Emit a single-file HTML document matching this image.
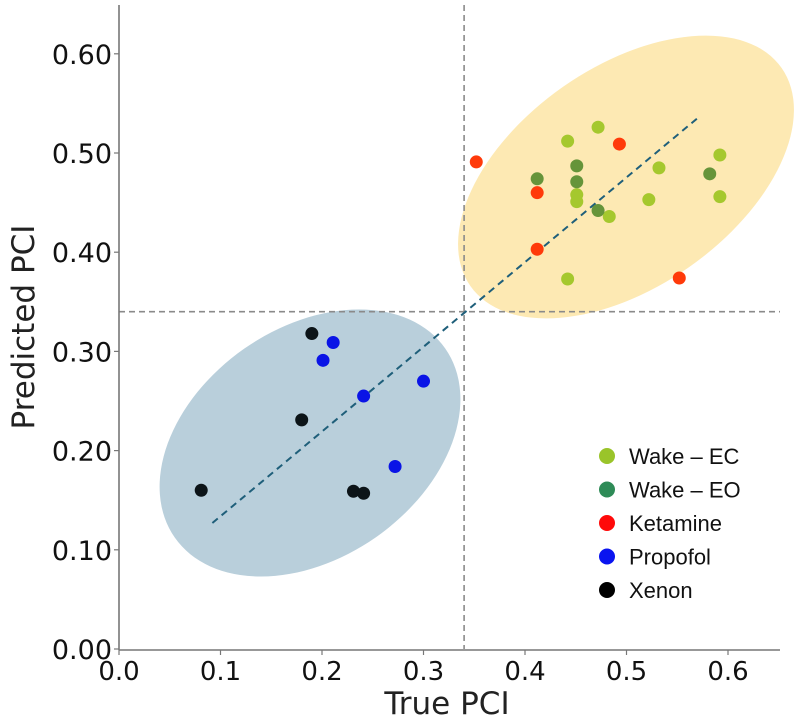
<!DOCTYPE html>
<html><head><meta charset="utf-8"><style>
html,body{margin:0;padding:0;background:#fff;}
svg{display:block;font-family:"DejaVu Sans","Liberation Sans",sans-serif;}
</style></head><body>
<svg id="chart" width="800" height="721" viewBox="0 0 800 721" xmlns="http://www.w3.org/2000/svg"></svg>
<script>
const xTicks = [0.0,0.1,0.2,0.3,0.4,0.5,0.6];
const xTickLabels = ["0.0","0.1","0.2","0.3","0.4","0.5","0.6"];
const yTicks = [0.0,0.1,0.2,0.3,0.4,0.5,0.6];
const yTickLabels = ["0.00","0.10","0.20","0.30","0.40","0.50","0.60"];
const categories = ["Wake – EC","Wake – EO","Ketamine","Propofol","Xenon"];
const wakeEC_x = [0.472,0.442,0.592,0.532,0.451,0.451,0.522,0.592,0.483,0.442];
const wakeEC_y = [0.526,0.512,0.498,0.485,0.458,0.451,0.453,0.456,0.436,0.373];
const wakeEO_x = [0.451,0.412,0.582,0.451,0.472];
const wakeEO_y = [0.487,0.474,0.479,0.471,0.442];
const ketamine_x = [0.352,0.493,0.412,0.412,0.552];
const ketamine_y = [0.491,0.509,0.460,0.403,0.374];
const propofol_x = [0.211,0.201,0.300,0.241,0.272];
const propofol_y = [0.309,0.291,0.270,0.255,0.184];
const xenon_x = [0.190,0.180,0.081,0.231,0.241];
const xenon_y = [0.318,0.231,0.160,0.159,0.157];
const fitLine_x = [0.092,0.571];
const fitLine_y = [0.127,0.536];
const threshold = 0.34;

const NS="http://www.w3.org/2000/svg";
const svg=document.getElementById('chart');
const X0=119, XS=1015, Y0=649, YS=992;
const sx=v=>X0+v*XS, sy=v=>Y0-v*YS;
function mk(tag,attrs,parent){const e=document.createElementNS(NS,tag);for(const k in attrs)e.setAttribute(k,attrs[k]);(parent||svg).appendChild(e);return e;}

let e1=mk('ellipse',{cx:310,cy:443,rx:165,ry:115,transform:'rotate(-35 310 443)',fill:'#b9cfdb'});


let e2=mk('ellipse',{cx:626,cy:177,rx:190,ry:110,transform:'rotate(-35 626 177)',fill:'#fde9b3'});



let th=mk('line',{x1:sx(0),x2:780,y1:sy(threshold),y2:sy(threshold),stroke:'#8a8a8a','stroke-width':1.6,'stroke-dasharray':'6,4'});


let tv=mk('line',{x1:sx(threshold),x2:sx(threshold),y1:5,y2:Y0,stroke:'#8a8a8a','stroke-width':1.6,'stroke-dasharray':'6,4'});



let fl=mk('line',{x1:sx(fitLine_x[0]),y1:sy(fitLine_y[0]),x2:sx(fitLine_x[1]),y2:sy(fitLine_y[1]),stroke:'#1f5f7a','stroke-width':2,'stroke-dasharray':'7,5'});



let ax=mk('line',{x1:X0,x2:780,y1:Y0+1,y2:Y0+1,stroke:'#777','stroke-width':1.6});


let ay=mk('line',{x1:X0,x2:X0,y1:5,y2:Y0+1,stroke:'#777','stroke-width':1.6});



xTicks.forEach((v,i)=>{
  let t=mk('line',{x1:sx(v),x2:sx(v),y1:Y0+1,y2:Y0+6,stroke:'#777','stroke-width':1.2});
  
  
  let l=mk('text',{x:sx(v),y:Y0+31,'text-anchor':'middle','font-size':26,fill:'#111'});
  l.textContent=xTickLabels[i];
  
  
});
yTicks.forEach((v,i)=>{
  let t=mk('line',{x1:X0-5,x2:X0,y1:sy(v),y2:sy(v),stroke:'#777','stroke-width':1.2});
  
  
  let l=mk('text',{x:X0-7,y:sy(v)+10,'text-anchor':'end','font-size':27,fill:'#111'});
  l.textContent=yTickLabels[i];
  
  
});
let xt=mk('text',{x:447,y:714,'text-anchor':'middle','font-size':31,fill:'#222'});
xt.textContent='True PCI';


let yt=mk('text',{x:0,y:0,'text-anchor':'middle','font-size':31,fill:'#222',transform:'translate(34 327) rotate(-90)'});
yt.textContent='Predicted PCI';



const series=[
  {xs:wakeEC_x,ys:wakeEC_y,c:'#a5c82e',name:'wake-ec-point'},
  {xs:wakeEO_x,ys:wakeEO_y,c:'#66943a',name:'wake-eo-point'},
  {xs:ketamine_x,ys:ketamine_y,c:'#ff3a0a',name:'ketamine-point'},
  {xs:propofol_x,ys:propofol_y,c:'#0a14e6',name:'propofol-point'},
  {xs:xenon_x,ys:xenon_y,c:'#0c1418',name:'xenon-point'}
];
series.forEach(s=>{
  s.xs.forEach((v,i)=>{
    let p=mk('circle',{cx:sx(v),cy:sy(s.ys[i]),r:6.5,fill:s.c});
    
    
  });
});

const legendColors=['#9ac42a','#2e8b57','#ff0a0a','#0a14f0','#000'];
categories.forEach((c,i)=>{
  const y=456+i*33.5;
  let m=mk('circle',{cx:607,cy:y,r:8,fill:legendColors[i]});
  
  
  let t=mk('text',{x:629,y:y+8,'font-size':22,fill:'#111','font-family':'"Liberation Sans",sans-serif'});
  t.textContent=c;
  
  
});
</script>
</body></html>
